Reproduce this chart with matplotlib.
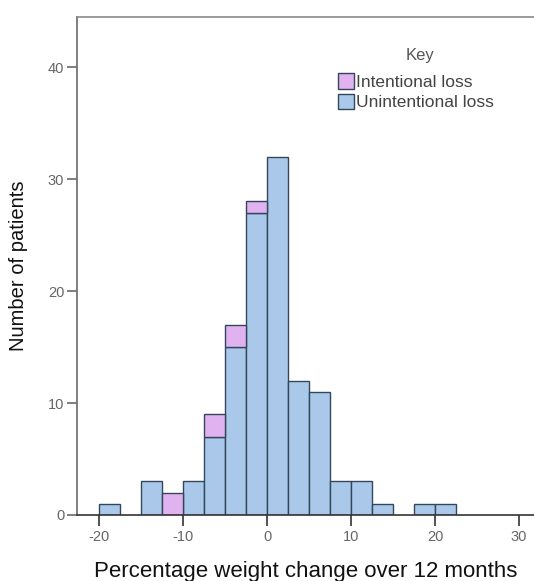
import matplotlib.pyplot as plt
import numpy as np

# histogram bins of 2.5 % weight change, left edges
bin_left = [-20, -17.5, -15, -12.5, -10, -7.5, -5, -2.5, 0, 2.5, 5, 7.5, 10, 12.5, 15, 17.5, 20]
unintentional = [1, 0, 3, 0, 3, 7, 15, 27, 32, 12, 11, 3, 3, 1, 0, 1, 1]
intentional = [0, 0, 0, 2, 0, 2, 2, 1, 0, 0, 0, 0, 0, 0, 0, 0, 0]
bin_width = 2.5
x_ticks = [-20, -10, 0, 10, 20, 30]
y_ticks = [0, 10, 20, 30, 40]

blue = '#aac9ea'
pink = '#e0b2ef'
edge = '#34465a'
axis_col = '#6a6a6a'

plt.rcParams['font.family'] = ['Liberation Sans', 'DejaVu Sans']

fig = plt.figure(figsize=(5.34, 5.81), dpi=100)
ax = fig.add_axes([0.1436, 0.1136, 0.8564, 0.8577])

unint = np.array(unintentional)
inten = np.array(intentional)
left = np.array(bin_left)
mask_u = unint > 0
mask_i = inten > 0
ax.bar(left[mask_u], unint[mask_u], width=bin_width, align='edge', color=blue,
       edgecolor=edge, linewidth=1.0, label='Unintentional loss', zorder=2)
ax.bar(left[mask_i], inten[mask_i], width=bin_width, bottom=unint[mask_i], align='edge',
       color=pink, edgecolor=edge, linewidth=1.0, label='Intentional loss', zorder=2)

ax.set_xlim(-22.7, 31.8)
ax.set_ylim(0, 44.5)
ax.set_xticks(x_ticks)
ax.set_xticklabels([str(v) for v in x_ticks])  # plain hyphen minus
ax.set_yticks(y_ticks)

ax.spines['right'].set_visible(False)
for side in ['left', 'top']:
    ax.spines[side].set_color(axis_col)
    ax.spines[side].set_linewidth(1.2)
ax.spines['top'].set_color('#8a8a8a')
ax.spines['bottom'].set_color('#333333')
ax.spines['bottom'].set_linewidth(1.2)
ax.spines['bottom'].set_zorder(3)

ax.tick_params(axis='both', direction='out', width=1.2, color=axis_col,
               labelcolor='#666666', labelsize=10.5)
ax.tick_params(axis='y', length=7, pad=2)
ax.tick_params(axis='x', length=8, color='#333333', pad=3)

ax.set_xlabel('Percentage weight change over 12 months', fontsize=16, color='#111111', labelpad=12)
ax.set_ylabel('Number of patients', fontsize=14.5, color='#111111', labelpad=14)

# legend without built-in title; "Key" placed above it
handles, labels = ax.get_legend_handles_labels()
leg = ax.legend(handles[::-1], labels[::-1], loc='upper left',
                bbox_to_anchor=(0.571, 0.886), frameon=False, fontsize=12.5,
                handlelength=0.95, handleheight=1.0,
                handletextpad=0.1, labelspacing=0.2, borderaxespad=0, borderpad=0)
for t in leg.get_texts():
    t.set_color('#444444')
ax.text(0.75, 0.923, 'Key', transform=ax.transAxes, ha='center', va='center',
        fontsize=12, color='#555555')

fig.savefig('out.png', dpi=100)
